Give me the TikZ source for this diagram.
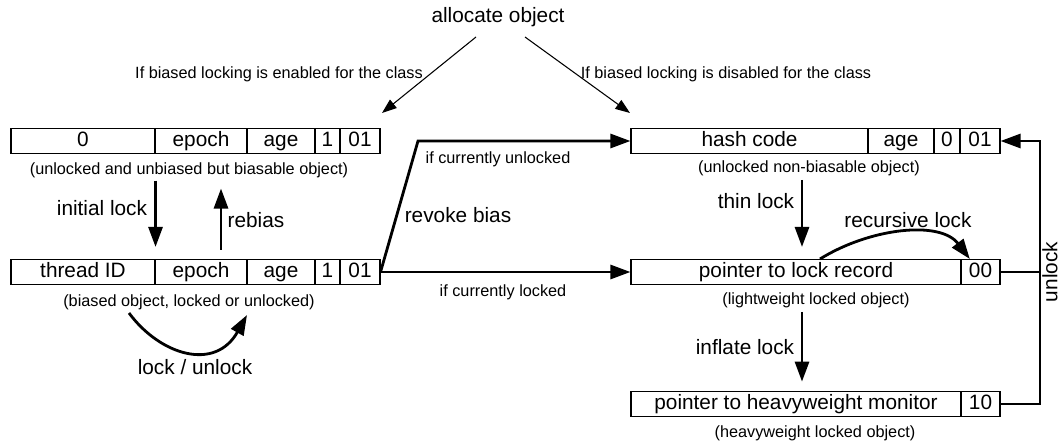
\documentclass[tikz,border=0pt]{standalone}
\usepackage{fontspec}
\setmainfont{Liberation Sans}
\usetikzlibrary{arrows.meta}
\newcommand{\bigtxt}{\fontsize{15.6}{18}\selectfont}
\newcommand{\smalltxt}{\fontsize{12.2}{14}\selectfont}
\begin{document}
\begin{tikzpicture}[x=0.75pt, y=-0.75pt,
  field/.style={draw, line width=0.8pt, minimum height=18.75pt, inner sep=0pt,
    text height=11.2pt, text depth=3.3pt, font=\bigtxt},
  caption/.style={inner sep=0pt, font=\smalltxt},
  tag/.style={inner sep=0pt, font=\bigtxt},
  move/.style={-{Triangle[length=15pt,width=10.5pt]}, line width=2.1pt},
  alloc/.style={-{Triangle[length=11pt,width=8pt]}, line width=0.8pt}]
\useasboundingbox (0,0) rectangle (1060,442);

\node[tag] (allocate) at (498,17) {allocate object};
\node[caption] (enabled) at (279,74) {If biased locking is enabled for the class};
\node[caption] (disabled) at (726,74) {If biased locking is disabled for the class};

% biasable header
\node[field, minimum width=108pt] (zeroA) at (83,141) {0};
\node[field, minimum width=69pt] (epochA) at (201,141) {epoch};
\node[field, minimum width=51pt] (ageA) at (281,141) {age};
\node[field, minimum width=18.75pt] (bitA) at (327.5,141) {1};
\node[field, minimum width=30pt] (lockA) at (360,141) {01};
\node[caption] (capA) at (189,170) {(unlocked and unbiased but biasable object)};

% biased header
\node[field, minimum width=108pt] (tidB) at (83,272) {thread ID};
\node[field, minimum width=69pt] (epochB) at (201,272) {epoch};
\node[field, minimum width=51pt] (ageB) at (281,272) {age};
\node[field, minimum width=18.75pt] (bitB) at (327.5,272) {1};
\node[field, minimum width=30pt] (lockB) at (360,272) {01};
\node[caption] (capB) at (189,302) {(biased object, locked or unlocked)};

% non-biasable header
\node[field, minimum width=177.75pt] (hashC) at (749.5,141) {hash code};
\node[field, minimum width=49.5pt] (ageC) at (901,141) {age};
\node[field, minimum width=19.5pt] (bitC) at (947,141) {0};
\node[field, minimum width=30pt] (lockC) at (980,141) {01};
\node[caption] (capC) at (809,168) {(unlocked non-biasable object)};

% thin locked
\node[field, minimum width=247.5pt] (ptrD) at (796,272) {pointer to lock record};
\node[field, minimum width=29.25pt] (lockD) at (980.5,272) {00};
\node[caption] (capD) at (816,300) {(lightweight locked object)};

% inflated
\node[field, minimum width=247.5pt] (monE) at (796,404) {pointer to heavyweight monitor};
\node[field, minimum width=29.25pt] (lockE) at (980.5,404) {10};
\node[caption] (capE) at (815,433) {(heavyweight locked object)};

% transition labels
\node[tag] (initial) at (102,208) {initial lock};
\node[tag] (rebias) at (256,220) {rebias};
\node[tag] (revoke) at (458,215) {revoke bias};
\node[caption] (unlocked) at (498,159) {if currently unlocked};
\node[caption] (locked) at (503,292) {if currently locked};
\node[tag] (thin) at (756,201) {thin lock};
\node[tag] (recursive) at (908,220) {recursive lock};
\node[tag] (inflate) at (745,347) {inflate lock};
\node[tag] (lockunlock) at (195,367) {lock / unlock};
\node[tag, rotate=90] (unlock) at (1050,272) {unlock};

\coordinate (allocL) at (476,37);
\coordinate (allocR) at (525,37);
\coordinate (tipL) at (382,113);
\coordinate (tipR) at (630,113);
\coordinate (kink) at (418,141);
\coordinate (luStart) at (129,313);
\coordinate (luEnd) at (247,315);
\coordinate (rail) at (1040,272);

\draw[alloc] (allocL) -- (tipL);
\draw[alloc] (allocR) -- (tipR);
\draw[move, shorten <=2pt, shorten >=9pt] (capA.south -| tidB.north east) -- (tidB.north east);
\draw[move, shorten <=7pt, shorten >=8pt] ([xshift=15pt]epochB.north) -- ([xshift=15pt]epochB.north |- capA.south);
\draw[move] (lockB.east) -- (kink) -- (hashC.west);
\draw[move] (lockB.east) -- (ptrD.west);
\draw[move] (luStart) .. controls (160,355) and (215,372) .. (luEnd);
\draw[move, shorten <=3pt, shorten >=9pt] ([xshift=4.5pt]ptrD.north |- capC.south) -- ([xshift=4.5pt]ptrD.north);
\draw[move] ([xshift=18pt]ptrD.north) .. controls (870,228) and (940,220) .. ([xshift=7pt]lockD.north west);
\draw[move, shorten <=3pt, shorten >=7pt] ([xshift=4.5pt]monE.north |- capD.south) -- ([xshift=4.5pt]monE.north);
\draw[line width=2.1pt] (lockD.east) -- (rail);
\draw[move] (lockE.east) -| (rail) |- (lockC.east);
\end{tikzpicture}
\end{document}
